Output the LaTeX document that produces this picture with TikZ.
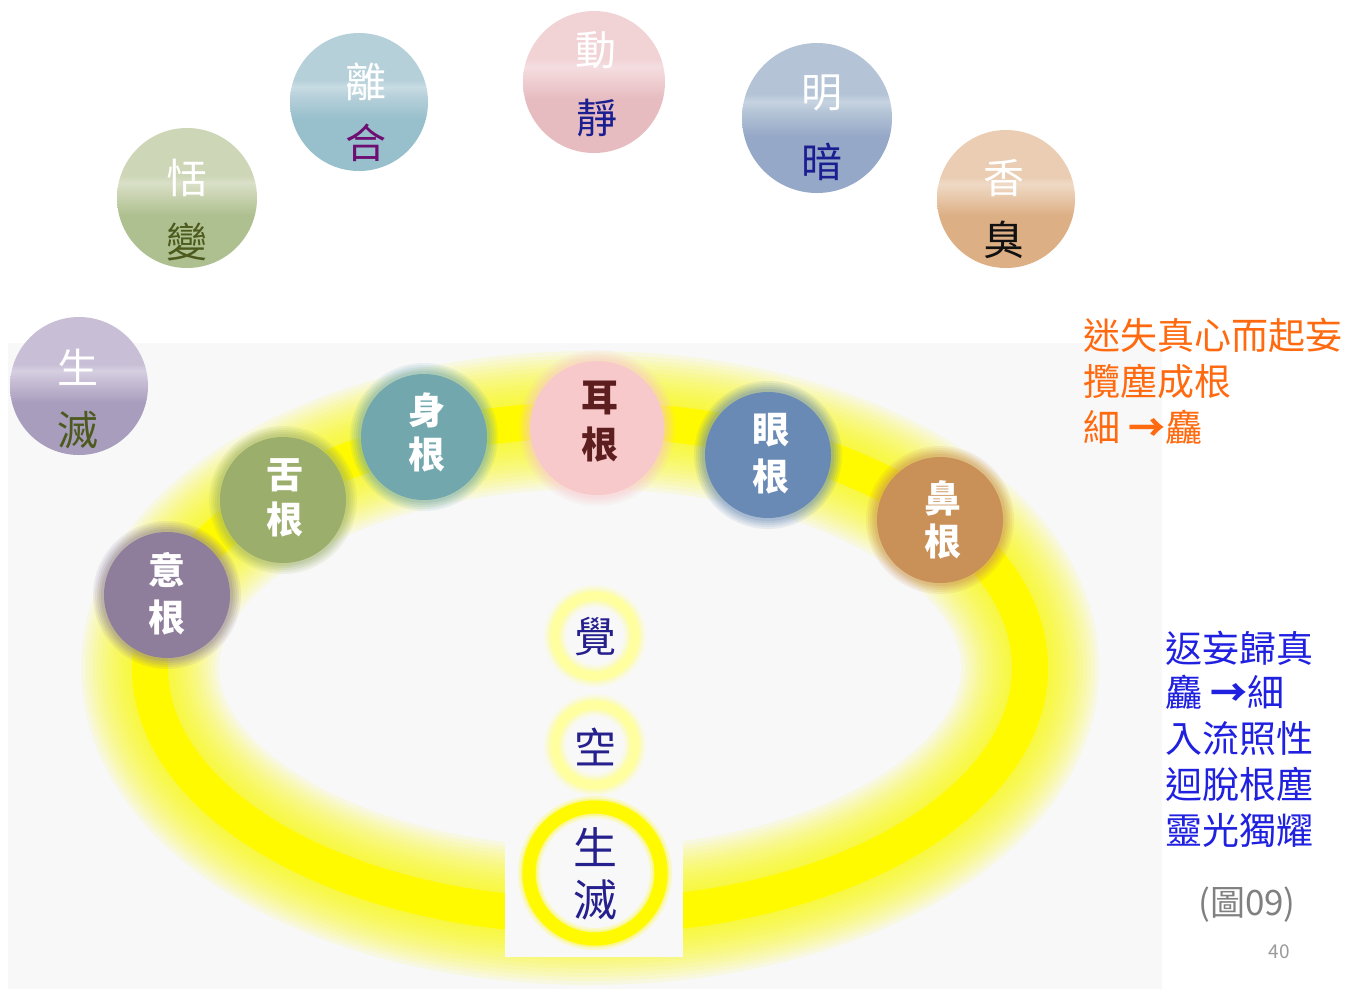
\documentclass[tikz,border=0pt]{standalone}
\usepackage{fontspec}
\setmainfont{Noto Sans CJK TC}
\definecolor{bgcol}{HTML}{F8F8F8}
\definecolor{yel}{HTML}{FFFA00}
\definecolor{paleyel}{HTML}{FFFFA0}
\definecolor{navy}{HTML}{26208E}
\definecolor{olivetxt}{HTML}{4C5A1E}
\definecolor{purptxt}{HTML}{6E0E72}
\definecolor{bluetxt}{HTML}{1A1E90}
\definecolor{blktxt}{HTML}{111111}
\definecolor{orangetxt}{HTML}{FF6A10}
\definecolor{brightblue}{HTML}{2020E0}
\definecolor{graytxt}{HTML}{808080}
\definecolor{shenC}{HTML}{72A7AE}
\definecolor{sheC}{HTML}{9BAE6C}
\definecolor{yiC}{HTML}{8E7E9C}
\definecolor{erC}{HTML}{F7C9CB}
\definecolor{erTxt}{HTML}{5C1E1E}
\definecolor{yanC}{HTML}{6A8AB6}
\definecolor{biC}{HTML}{C99158}
\newcommand\mkball[3]{%
  \definecolor{#1L}{HTML}{#2}\definecolor{#1D}{HTML}{#3}%
  \colorlet{#1M}{#1L!50!#1D}\colorlet{#1G}{#1L!75!white}%
  \pgfdeclareverticalshading{ball#1}{100bp}{color(0bp)=(#1D); color(44bp)=(#1D); color(48bp)=(#1M); color(52bp)=(#1L); color(55.5bp)=(#1G); color(58bp)=(#1L); color(100bp)=(#1L)}}
\mkball{A}{C8BFD6}{A99DBD}
\mkball{B}{CDD6B6}{AFC090}
\mkball{C}{B6D0DA}{98C0CC}
\mkball{D}{F1D3D6}{E6BCC0}
\mkball{E}{B4C4D6}{96A8C8}
\mkball{F}{EACDB2}{DCAF85}
\tikzset{
  ball/.style={circle, inner sep=0pt, minimum size=#1},
  upch/.style={text=white, font=\fontsize{41}{41}\selectfont, inner sep=0pt},
  loch/.style={font=\fontsize{41}{41}\selectfont, inner sep=0pt},
  rootb/.style={circle, inner sep=0pt, minimum size=126pt, fill=#1,
    preaction={draw=#1, draw opacity=.12, line width=22pt},
    preaction={draw=#1, draw opacity=.12, line width=18pt},
    preaction={draw=#1, draw opacity=.14, line width=14pt},
    preaction={draw=#1, draw opacity=.16, line width=10pt},
    preaction={draw=#1, draw opacity=.2, line width=6pt}},
  rootch/.style={text=white, font=\bfseries\fontsize{37}{37}\selectfont, inner sep=0pt},
  ring/.style 2 args={circle, inner sep=0pt, minimum size=#1, draw=#2, line width=9pt,
    preaction={draw=#2, draw opacity=.2, line width=22pt},
    preaction={draw=#2, draw opacity=.3, line width=17pt},
    preaction={draw=#2, draw opacity=.45, line width=13pt}},
  midch/.style={text=navy, font=\fontsize{42}{42}\selectfont, inner sep=0pt},
  sidetxt/.style={anchor=base west, inner sep=0pt, font=\fontsize{37}{37}\selectfont}
}
\begin{document}
\begin{tikzpicture}[x=1pt,y=-1pt]
\useasboundingbox (0,0) rectangle (1367,989);
\fill[white] (0,0) rectangle (1367,989);
\fill[bgcol] (8,343) rectangle (1162,989);
% glowing yellow ellipse
\coordinate (ec) at (590,668);
\foreach \w in {138,130,...,42}{
  \draw[yel, line width=\w pt, draw opacity=.09] (ec) ellipse [x radius=440, y radius=248];
}
\draw[yel, line width=36pt] (ec) ellipse [x radius=440, y radius=248];
\fill[bgcol] (505,560) rectangle (683,957);
% inner rings
\node[ring={80pt}{paleyel}] (r1) at (595,636) {};
\node[ring={80pt}{paleyel}] (r2) at (595,745) {};
\node[ring={132pt}{yel}, line width=13pt] (r3) at (595,873) {};
\node[midch] (t1) at (595,637) {覺};
\node[midch] (t2) at (595,747) {空};
\node[midch, font=\fontsize{44}{44}\selectfont] (t3) at (595,847) {生};
\node[midch, font=\fontsize{44}{44}\selectfont] (t4) at (595,900) {滅};
% six roots
\node[rootb=yiC] (yi) at (167,595) {};
\node[rootb=sheC] (she) at (283,500) {};
\node[rootb=shenC] (shen) at (424,437) {};
\node[rootb=erC, minimum size=134pt] (er) at (597,428) {};
\node[rootb=yanC] (yan) at (768,455) {};
\node[rootb=biC] (bi) at (940,520) {};
\node[rootch] at (167,570) {意};
\node[rootch] at (167,617) {根};
\node[rootch] at (285,475) {舌};
\node[rootch] at (285,520) {根};
\node[rootch] at (427,410) {身};
\node[rootch] at (427,455) {根};
\node[rootch, text=erTxt] at (600,398) {耳};
\node[rootch, text=erTxt] at (600,445) {根};
\node[rootch] at (771,430) {眼};
\node[rootch] at (771,477) {根};
\node[rootch] at (943,498) {鼻};
\node[rootch] at (943,542) {根};
% six sense objects
\node[ball=138pt, shade, shading=ballA] (bA) at (79,386) {};
\node[ball=140pt, shade, shading=ballB] (bB) at (187,198) {};
\node[ball=138pt, shade, shading=ballC] (bC) at (359,102) {};
\node[ball=142pt, shade, shading=ballD] (bD) at (594,82) {};
\node[ball=150pt, shade, shading=ballE] (bE) at (817,118) {};
\node[ball=138pt, shade, shading=ballF] (bF) at (1006,199) {};
\node[upch] at (78,367) {生};
\node[loch, text=olivetxt] at (78,430) {滅};
\node[upch] at (187,178) {恬};
\node[loch, text=olivetxt] at (187,242) {變};
\node[upch] at (366,82) {離};
\node[loch, text=purptxt] at (366,143) {合};
\node[upch] at (596,50) {動};
\node[loch, text=bluetxt] at (597,118) {靜};
\node[upch] at (822,93) {明};
\node[loch, text=bluetxt] at (822,162) {暗};
\node[upch] at (1004,178) {香};
\node[loch, text=blktxt] at (1004,240) {臭};
% right texts
\node[sidetxt, text=orangetxt] at (1083,349) {迷失真心而起妄};
\node[sidetxt, text=orangetxt] at (1083,395) {攬塵成根};
\node[sidetxt, text=orangetxt] at (1083,441) {細 {\bfseries →}麤};
\node[sidetxt, text=brightblue] at (1165,662) {返妄歸真};
\node[sidetxt, text=brightblue] at (1165,706) {麤 {\bfseries →}細};
\node[sidetxt, text=brightblue] at (1165,752) {入流照性};
\node[sidetxt, text=brightblue] at (1165,798) {迴脫根塵};
\node[sidetxt, text=brightblue] at (1165,844) {靈光獨耀};
\node[text=graytxt, font=\fontsize{35}{35}\selectfont, inner sep=0pt] at (1247,905) {(圖09)};
\node[text=graytxt!80, font=\fontsize{19}{19}\selectfont, inner sep=0pt] at (1279,952) {40};
\end{tikzpicture}
\end{document}
